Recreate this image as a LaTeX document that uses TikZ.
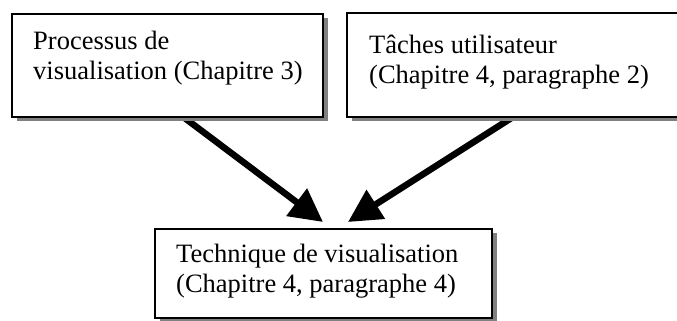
\documentclass[tikz,border=0pt]{standalone}
\usepackage{fontspec}
\setmainfont{Liberation Serif}
\usetikzlibrary{arrows.meta,shadows,backgrounds}
\begin{document}
\begin{tikzpicture}[x=1pt,y=1pt,
  box/.style={draw=black, line width=1.6pt, fill=white, rectangle, inner sep=0pt,
    drop shadow={shadow xshift=4.5pt, shadow yshift=-4.5pt, fill=black!50, opacity=1}},
  label/.style={anchor=base west, inner sep=0pt, align=left,
    font=\fontsize{26.5}{30}\selectfont},
  bigarrow/.style={line width=6.5pt, -{Triangle[length=33pt,width=33pt]}}
]
\useasboundingbox (0,0) rectangle (677,321);
\node[box, minimum width=311pt, minimum height=103pt] (b1) at (167.5,255.5) {};
\node[box, minimum width=338pt, minimum height=104pt] (b2) at (516,256) {};
\node[box, minimum width=337pt, minimum height=89pt] (b3) at (323.5,47.5) {};
\node[label] (t1) at (33,241) {Processus de\\visualisation (Chapitre 3)};
\node[label] (t2) at (369,237) {Tâches utilisateur\\(Chapitre 4, paragraphe 2)};
\node[label] (t3) at (176,28) {Technique de visualisation\\(Chapitre 4, paragraphe 4)};
\coordinate (s1) at (182,205);
\coordinate (e1) at (323,99);
\coordinate (s2) at (513,204);
\coordinate (e2) at (348,99);
\begin{scope}[on background layer]
\draw[bigarrow] (s1) -- (e1);
\draw[bigarrow] (s2) -- (e2);
\end{scope}
\end{tikzpicture}
\end{document}
